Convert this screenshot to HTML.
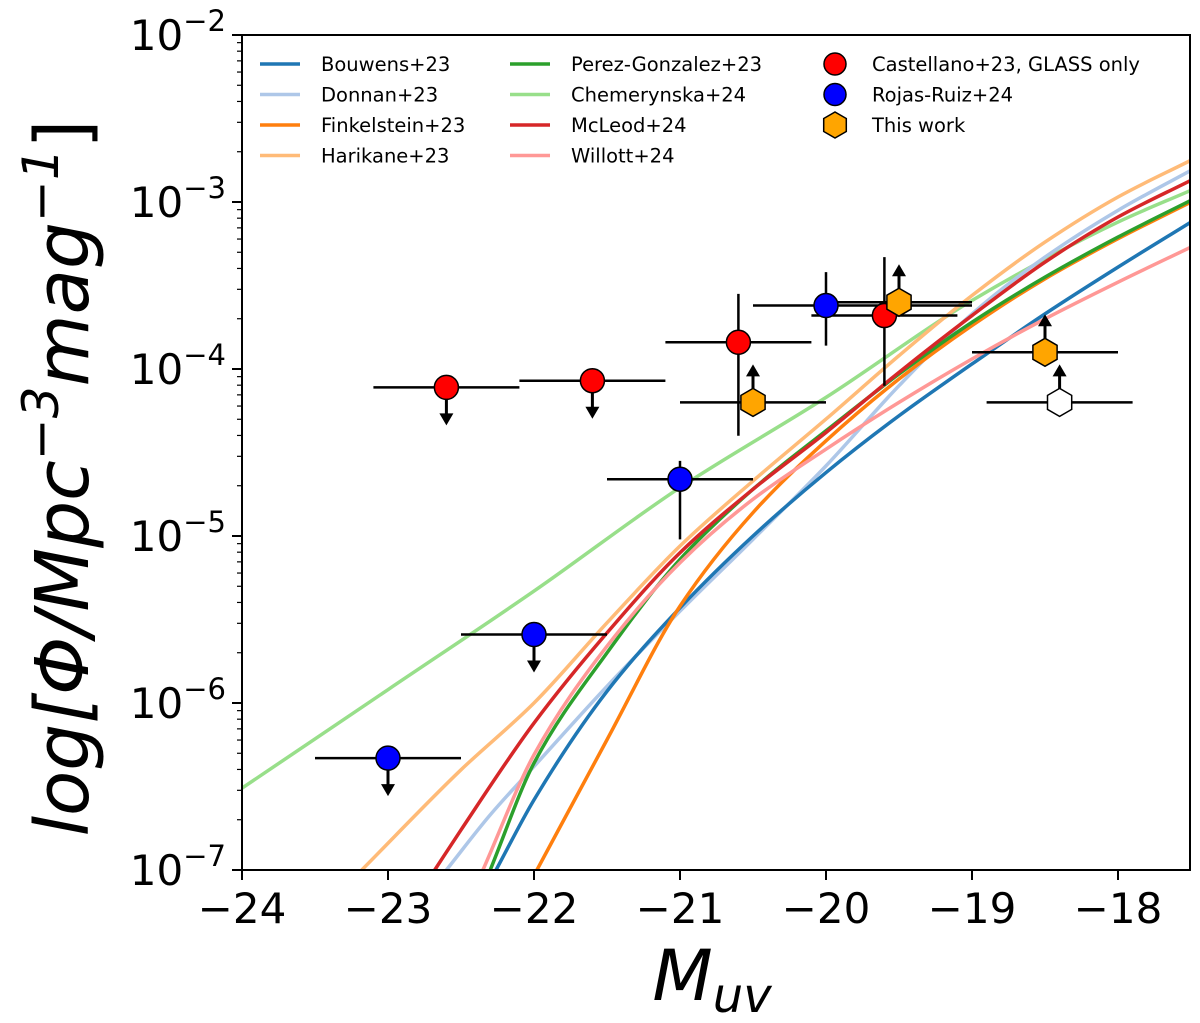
<!DOCTYPE html>
<html><head><meta charset="utf-8"><style>
body{margin:0;background:#fff}
svg{font-family:"DejaVu Sans","Liberation Sans",sans-serif}
</style></head><body>
<svg id="chart" width="1200" height="1018" viewBox="0 0 1200 1018" xmlns="http://www.w3.org/2000/svg">
<defs><clipPath id="clip"><rect x="242" y="35" width="948" height="835"/></clipPath></defs>
<g id="curves" clip-path="url(#clip)"></g>
<g id="points"></g>
<rect x="242" y="35" width="948" height="835" fill="none" stroke="#000" stroke-width="2"/>
<g id="axes"></g>
<text x="712" y="1000" font-size="70" font-style="italic" text-anchor="middle">M<tspan font-size="48" dy="12">uv</tspan></text>
<text transform="translate(88,478) rotate(-90)" font-size="74" font-style="italic" text-anchor="middle">log[Φ/Mpc<tspan font-size="50" dy="-30">−3</tspan><tspan dy="30">mag</tspan><tspan font-size="50" dy="-30">−1</tspan><tspan dy="30" font-style="normal">]</tspan></text>
<g id="legend"></g>
</svg>
<script>
const NS="http://www.w3.org/2000/svg";
const xTicks=[-24,-23,-22,-21,-20,-19,-18];
const yTicks=[-2,-3,-4,-5,-6,-7];
function X(m){return 242+(m+24)*146;}
function Y(l){return 35+(-2-l)*167;}
function mk(tag,attrs,parent){const e=document.createElementNS(NS,tag);for(const k in attrs)e.setAttribute(k,attrs[k]);parent.appendChild(e);return e;}

const curveNames=["Bouwens+23","Donnan+23","Finkelstein+23","Harikane+23","Perez-Gonzalez+23","Chemerynska+24","McLeod+24","Willott+24"];
const curveColors=["#1f77b4","#aec7e8","#ff7f0e","#ffbb78","#2ca02c","#98df8a","#d62728","#ff9896"];
const bouwensM=[-22.26,-22,-21.5,-21,-20.5,-20,-19.5,-19,-18.5,-18,-17.5];
const bouwensL=[-7.0,-6.58,-5.93,-5.43,-5.0,-4.62,-4.28,-3.97,-3.67,-3.39,-3.12];
const donnanM=[-22.6,-22.3,-22,-21.5,-21,-20.5,-20,-19.5,-19,-18.5,-18,-17.5];
const donnanL=[-7.0,-6.67,-6.38,-5.9,-5.45,-5.02,-4.58,-4.1,-3.67,-3.33,-3.05,-2.81];
const finkM=[-21.98,-21.5,-21,-20.5,-20,-19.5,-19,-18.5,-18,-17.5];
const finkL=[-7.0,-6.22,-5.42,-4.86,-4.43,-4.06,-3.74,-3.46,-3.22,-3.0];
const hariM=[-23.18,-22.5,-22,-21.5,-21,-20.5,-20,-19.5,-19,-18.5,-18,-17.5];
const hariL=[-7.0,-6.4,-6.0,-5.52,-5.06,-4.67,-4.3,-3.92,-3.56,-3.24,-2.97,-2.75];
const perezM=[-22.3,-22,-21.5,-21,-20.5,-20,-19.5,-19,-18.5,-18,-17.5];
const perezL=[-7.0,-6.36,-5.7,-5.14,-4.72,-4.37,-4.03,-3.72,-3.45,-3.21,-2.99];
const chemM=[-24,-23,-22,-21,-20,-19,-18,-17.5];
const chemL=[-6.51,-5.92,-5.33,-4.71,-4.17,-3.59,-3.12,-2.93];
const mcleodM=[-22.68,-22.5,-22,-21.5,-21,-20.5,-20,-19.5,-19,-18.5,-18,-17.5];
const mcleodL=[-7.0,-6.76,-6.12,-5.58,-5.1,-4.72,-4.38,-4.02,-3.68,-3.36,-3.09,-2.87];
const willM=[-22.35,-22,-21.5,-21,-20.5,-20,-19.5,-19,-18.5,-18,-17.5];
const willL=[-7.0,-6.31,-5.66,-5.16,-4.78,-4.48,-4.2,-3.94,-3.7,-3.48,-3.27];
const curveM=[bouwensM,donnanM,finkM,hariM,perezM,chemM,mcleodM,willM];
const curveL=[bouwensL,donnanL,finkL,hariL,perezL,chemL,mcleodL,willL];
const drawOrder=[5,3,1,0,2,4,6,7];

function smoothPath(xs,ys){
  const n=xs.length;const d=[],m=[];
  for(let i=0;i<n-1;i++)d.push((ys[i+1]-ys[i])/(xs[i+1]-xs[i]));
  m[0]=d[0];m[n-1]=d[n-2];
  for(let i=1;i<n-1;i++){
    if(d[i-1]*d[i]<=0){m[i]=0;continue;}
    const h0=xs[i]-xs[i-1],h1=xs[i+1]-xs[i];
    const w1=2*h1+h0,w2=h1+2*h0;
    m[i]=(w1+w2)/(w1/d[i-1]+w2/d[i]);
  }
  let p="M"+xs[0]+","+ys[0];
  for(let i=0;i<n-1;i++){const h=xs[i+1]-xs[i];
    p+=" C"+(xs[i]+h/3)+","+(ys[i]+m[i]*h/3)+" "+(xs[i+1]-h/3)+","+(ys[i+1]-m[i+1]*h/3)+" "+xs[i+1]+","+ys[i+1];}
  return p;
}
const cg=document.getElementById('curves');
drawOrder.forEach(i=>{
  const xs=curveM[i].map(X),ys=curveL[i].map(Y);
  const p=mk('path',{d:smoothPath(xs,ys),fill:'none',stroke:curveColors[i],'stroke-width':3.5},cg);
  
  
});

const castM=[-22.6,-21.6,-20.6,-19.6];
const castL=[-4.11,-4.07,-3.84,-3.68];
const castXerr=[0.5,0.5,0.5,0.5];
const castYlo=[null,null,-4.4,-4.1];
const castYhi=[null,null,-3.55,-3.33];
const castUpper=[true,true,false,false];
const rojasM=[-23,-22,-21,-20];
const rojasL=[-6.33,-5.59,-4.66,-3.62];
const rojasXlo=[0.5,0.5,0.5,0.5];
const rojasXhi=[0.5,0.5,0.5,1.0];
const rojasYlo=[null,null,-5.02,-3.86];
const rojasYhi=[null,null,-4.55,-3.42];
const rojasUpper=[true,true,false,false];
const thisM=[-20.5,-19.5,-18.5,-18.4];
const thisL=[-4.2,-3.6,-3.9,-4.2];
const thisXerr=[0.5,0.5,0.5,0.5];
const thisFill=["#ffa500","#ffa500","#ffa500","#ffffff"];

const pg=document.getElementById('points');
function errbar(x1,y1,x2,y2,name){const l=mk('line',{x1,y1,x2,y2,stroke:'#000','stroke-width':2.5},pg);}
function arrow(x,y,dir,name){
  const y2=y+dir*38;
  const g=mk('g',{},pg);
  mk('line',{x1:x,y1:y,x2:x,y2:y2-dir*8,stroke:'#000','stroke-width':3},g);
  mk('polygon',{points:`${x},${y2} ${x-7},${y2-dir*12} ${x+7},${y2-dir*12}`,fill:'#000'},g);
}
function hex(cx,cy,r,fill,name){
  let pts=[];for(let k=0;k<6;k++){const a=Math.PI/6+k*Math.PI/3;pts.push((cx+r*Math.cos(a)).toFixed(1)+","+(cy+r*Math.sin(a)).toFixed(1));}
  const h=mk('polygon',{points:pts.join(' '),fill,stroke:'#000','stroke-width':1.5},pg);
}
castM.forEach((m,i)=>{
  const x=X(m),y=Y(castL[i]);
  errbar(X(m-castXerr[i]),y,X(m+castXerr[i]),y,'castellano-xerr');
  if(castYlo[i]!==null)errbar(x,Y(castYlo[i]),x,Y(castYhi[i]),'castellano-yerr');
  if(castUpper[i])arrow(x,y,1,'castellano-upper-limit');
});
rojasM.forEach((m,i)=>{
  const x=X(m),y=Y(rojasL[i]);
  errbar(X(m-rojasXlo[i]),y,X(m+rojasXhi[i]),y,'rojas-xerr');
  if(rojasYlo[i]!==null)errbar(x,Y(rojasYlo[i]),x,Y(rojasYhi[i]),'rojas-yerr');
  if(rojasUpper[i])arrow(x,y,1,'rojas-upper-limit');
});
thisM.forEach((m,i)=>{
  const x=X(m),y=Y(thisL[i]);
  errbar(X(m-thisXerr[i]),y,X(m+thisXerr[i]),y,'this-work-xerr');
  arrow(x,y,-1,'this-work-lower-limit');
});
castM.forEach((m,i)=>{const c=mk('circle',{cx:X(m),cy:Y(castL[i]),r:12,fill:'#ff0000',stroke:'#000','stroke-width':1.5},pg);});
rojasM.forEach((m,i)=>{const c=mk('circle',{cx:X(m),cy:Y(rojasL[i]),r:12,fill:'#0000ff',stroke:'#000','stroke-width':1.5},pg);});
thisM.forEach((m,i)=>hex(X(m),Y(thisL[i]),14,thisFill[i],'this-work-point'));

const ag=document.getElementById('axes');
xTicks.forEach(t=>{
  mk('line',{x1:X(t),y1:870,x2:X(t),y2:880,stroke:'#000','stroke-width':2},ag);
  const tx=mk('text',{x:X(t),y:923,'font-size':42,'text-anchor':'middle'},ag);
  tx.textContent='−'+Math.abs(t);
  
  
});
yTicks.forEach(t=>{
  mk('line',{x1:232,y1:Y(t),x2:242,y2:Y(t),stroke:'#000','stroke-width':2},ag);
  const tx=mk('text',{x:226,y:Y(t)+15,'font-size':42,'text-anchor':'end'},ag);
  tx.innerHTML='10<tspan font-size="29" dy="-19">−'+Math.abs(t)+'</tspan>';
  
  
});
for(let d=-7;d<-2;d++)for(let k=2;k<10;k++){const yy=Y(d+Math.log10(k));mk('line',{x1:237,y1:yy,x2:242,y2:yy,stroke:'#000','stroke-width':1.2},ag);}

const lg=document.getElementById('legend');
const legCols=[[0,1,2,3],[4,5,6,7]];
legCols.forEach((col,ci)=>col.forEach((i,ri)=>{
  const x0=ci===0?260:510,y0=64+ri*30.5;
  const g=mk('g',{},lg);
  mk('line',{x1:x0,y1:y0,x2:x0+40,y2:y0,stroke:curveColors[i],'stroke-width':3.5},g);
  const t=mk('text',{x:x0+61,y:y0+7,'font-size':19.5},g);t.textContent=curveNames[i];
}));
const markerLabels=["Castellano+23, GLASS only","Rojas-Ruiz+24","This work"];
markerLabels.forEach((lab,ri)=>{
  const y0=64+ri*30.5;
  const g=mk('g',{},lg);
  if(ri<2)mk('circle',{cx:835,cy:y0,r:11,fill:ri===0?'#ff0000':'#0000ff',stroke:'#000','stroke-width':1.5},g);
  else{let pts=[];for(let k=0;k<6;k++){const a=Math.PI/6+k*Math.PI/3;pts.push((835+13*Math.cos(a)).toFixed(1)+","+(y0+13*Math.sin(a)).toFixed(1));}mk('polygon',{points:pts.join(' '),fill:'#ffa500',stroke:'#000','stroke-width':1.5},g);}
  const t=mk('text',{x:872,y:y0+7,'font-size':19.5},g);t.textContent=lab;
});
</script>
</body></html>
